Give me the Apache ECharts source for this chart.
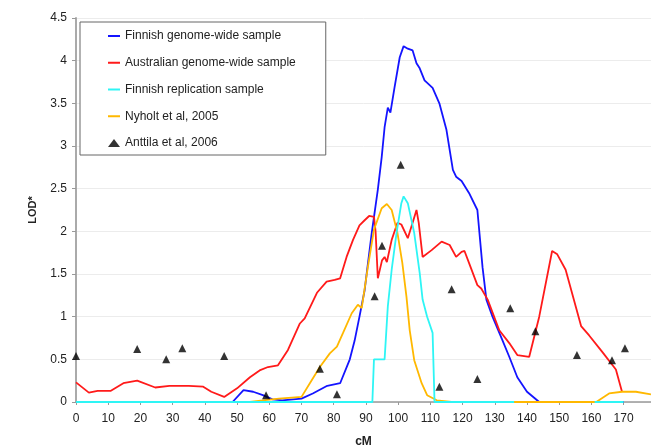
<!DOCTYPE html>
<html>
<head>
<meta charset="utf-8">
<script src="https://cdn.jsdelivr.net/npm/echarts@6.0.0/dist/echarts.min.js"></script>
<style>
  html, body { margin: 0; padding: 0; background: #fff; }
  #chart { width: 651px; height: 445px; }
</style>
</head>
<body>
<div id="chart"></div>
<script>
// [cM, LOD*] pairs
const finnishGenomeWide = [
  [0, 0], [48.6, 0], [52, 0.14], [55, 0.12], [58, 0.08], [61, 0.03], [64, 0.02], [70, 0.04],
  [73.5, 0.1], [78, 0.19], [82, 0.22], [85, 0.5], [86.5, 0.72], [88, 1.0], [89.6, 1.31],
  [91.8, 1.98], [93.7, 2.49], [94.9, 2.87], [95.8, 3.22], [96.8, 3.45], [97.6, 3.39],
  [98.9, 3.69], [100.5, 4.04], [101.7, 4.17], [103, 4.14], [104.5, 4.12], [105.7, 3.97],
  [106.7, 3.91], [108.2, 3.77], [110.7, 3.68], [112.8, 3.5], [115, 3.19], [117, 2.72],
  [118, 2.64], [119.7, 2.59], [122, 2.45], [124.6, 2.25], [126.2, 1.58], [127.4, 1.2],
  [129.3, 1.0], [132.3, 0.73], [134.5, 0.53], [137, 0.29], [140, 0.12], [143.8, 0], [170, 0]
];
const australianGenomeWide = [
  [0, 0.23], [4, 0.11], [6.7, 0.13], [10.7, 0.13], [14.7, 0.22], [19, 0.25], [24.6, 0.17],
  [29, 0.19], [35, 0.19], [39.5, 0.18], [42, 0.12], [46, 0.06], [50, 0.16], [54, 0.29],
  [57, 0.37], [59.6, 0.41], [62.7, 0.43], [65.8, 0.61], [69.5, 0.92], [71, 0.98],
  [74.8, 1.28], [77.8, 1.41], [80.3, 1.43], [82, 1.45], [84, 1.7], [86, 1.9], [88, 2.07],
  [89.6, 2.13], [91, 2.18], [92.5, 2.17], [93, 2.0], [93.7, 1.45], [95, 1.66], [95.8, 1.7],
  [96.5, 1.64], [98, 1.9], [99.8, 2.1], [101, 2.08], [103, 1.92], [104.5, 2.1], [105.7, 2.25],
  [106.4, 2.1], [107.6, 1.7], [110.4, 1.78], [113.5, 1.88], [116, 1.84], [118, 1.7],
  [119.7, 1.76], [120.6, 1.77], [122, 1.63], [124.6, 1.37], [125.8, 1.33], [127.8, 1.2],
  [131.4, 0.84], [134.5, 0.69], [137, 0.55], [140.7, 0.53], [143.8, 1.0], [147.8, 1.77],
  [149.4, 1.73], [152, 1.55], [156.8, 0.89], [159.3, 0.78], [163.3, 0.59], [167.6, 0.38],
  [169.5, 0.12]
];
const finnishReplication = [
  [0, 0], [92, 0], [92.5, 0.5], [95.8, 0.5], [96.8, 1.12], [98, 1.55], [99.5, 1.98],
  [101, 2.33], [101.7, 2.41], [103, 2.33], [105, 1.98], [106.7, 1.51], [107.6, 1.2],
  [109, 1.0], [110.7, 0.81], [111.3, 0], [136, 0], [148, null], [161, 0], [170, 0]
];
const nyholt2005 = [
  [30, 0], [54, 0], [58, 0.02], [63, 0.04], [70, 0.06], [72.6, 0.22], [75.7, 0.41],
  [78.8, 0.57], [81, 0.65], [82.9, 0.81], [85.6, 1.04], [87.5, 1.14], [88.7, 1.1],
  [90.6, 1.58], [92.5, 2.02], [94.9, 2.27], [96.5, 2.32], [98, 2.25], [99.8, 1.98],
  [101.3, 1.63], [102.6, 1.23], [103.6, 0.84], [105, 0.49], [107.3, 0.22], [109, 0.08],
  [112, 0.02], [116.6, 0], [161.5, 0], [165.5, 0.1], [169.5, 0.12], [173.8, 0.12], [178.5, 0.09]
];
const anttila2006 = [
  [0, 0.54], [19, 0.62], [28, 0.5], [33, 0.63], [46, 0.54], [59, 0.08], [75.7, 0.39],
  [81, 0.09], [92.7, 1.24], [95, 1.83], [100.8, 2.78], [112.8, 0.18], [116.6, 1.32],
  [124.6, 0.27], [134.8, 1.1], [142.6, 0.83], [155.5, 0.55], [166.4, 0.49], [170.4, 0.63]
];

const FONT = 'Liberation Sans, Arial, sans-serif';
const LINE_ICON = 'path://M0,0 L12,0 L12,2 L0,2 Z';

function lineSerie(name, data, color, z) {
  return {
    name: name,
    type: 'line',
    data: data,
    symbol: 'none',
    z: z,
    lineStyle: { color: color, width: 1.8 },
    itemStyle: { color: color }
  };
}

const chart = echarts.init(document.getElementById('chart'));
chart.setOption({
  animation: false,
  backgroundColor: '#fff',
  grid: { left: 76, right: 0, top: 18, bottom: 43, outerBoundsMode: 'none' },
  legend: {
    orient: 'vertical',
    left: 80,
    top: 22,
    padding: [7, 30, 5, 28],
    itemWidth: 12,
    itemHeight: 8,
    itemGap: 12.75,
    borderColor: '#666',
    borderWidth: 1,
    backgroundColor: '#fff',
    textStyle: { fontFamily: FONT, fontSize: 12, color: '#222', lineHeight: 14 },
    data: [
      { name: 'Finnish genome-wide sample', icon: LINE_ICON },
      { name: 'Australian genome-wide sample', icon: LINE_ICON },
      { name: 'Finnish replication sample', icon: LINE_ICON },
      { name: 'Nyholt et al, 2005', icon: LINE_ICON },
      { name: 'Anttila et al, 2006', icon: 'triangle' }
    ]
  },
  xAxis: {
    type: 'value',
    min: 0,
    max: 178.5,
    interval: 10,
    name: 'cM',
    nameLocation: 'middle',
    nameGap: 34,
    nameTextStyle: { fontFamily: FONT, fontSize: 12, fontWeight: 'bold', color: '#222' },
    axisLine: { show: true, lineStyle: { color: '#999', width: 1.5 } },
    axisTick: { show: true, length: 3, lineStyle: { color: '#999' } },
    axisLabel: { margin: 11, showMaxLabel: false, fontFamily: FONT, fontSize: 12, color: '#222' },
    splitLine: { show: false }
  },
  yAxis: {
    type: 'value',
    min: 0,
    max: 4.5,
    interval: 0.5,
    name: 'LOD*',
    nameLocation: 'middle',
    nameRotate: 90,
    nameGap: 38,
    nameTextStyle: { fontFamily: FONT, fontSize: 11, fontWeight: 'bold', color: '#222' },
    axisLine: { show: true, lineStyle: { color: '#aaa', width: 2 } },
    axisTick: { show: true, length: 4, lineStyle: { color: '#999' } },
    axisLabel: { margin: 9, fontFamily: FONT, fontSize: 12, color: '#222' },
    splitLine: { show: true, lineStyle: { color: '#ececec', width: 1 } }
  },
  series: [
    lineSerie('Finnish genome-wide sample', finnishGenomeWide, '#1414ff', 2),
    lineSerie('Australian genome-wide sample', australianGenomeWide, '#ff1a1a', 3),
    lineSerie('Finnish replication sample', finnishReplication, '#2ef5f5', 5),
    lineSerie('Nyholt et al, 2005', nyholt2005, '#ffb800', 4),
    {
      name: 'Anttila et al, 2006',
      type: 'scatter',
      data: anttila2006,
      symbol: 'triangle',
      symbolSize: 8,
      z: 6,
      itemStyle: { color: '#000' }
    }
  ]
});
</script>
</body>
</html>
